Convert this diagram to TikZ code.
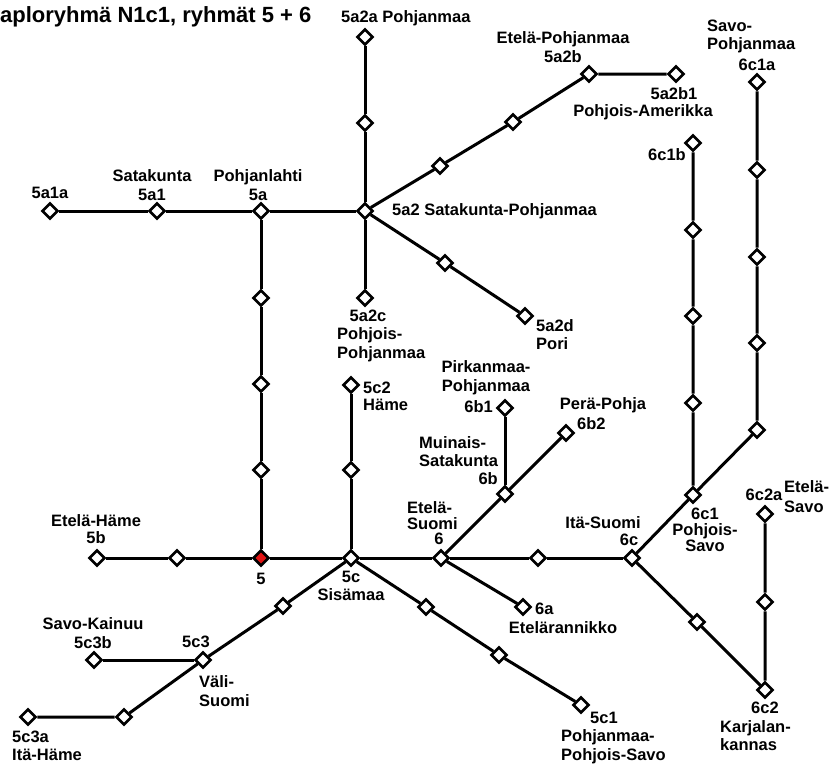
\documentclass[tikz,border=0pt]{standalone}
\usepackage{fontspec}
\setmainfont{Liberation Sans}
\usetikzlibrary{shapes.geometric}
\definecolor{juurired}{RGB}{225,20,20}

\begin{document}
\begin{tikzpicture}[x=1pt,y=-1pt,
  dia/.style={diamond,draw=black,fill=white,line width=2.7pt,minimum size=16pt,inner sep=0pt},
  root/.style={dia,fill=juurired},
  edge/.style={line width=3pt,black},
  lbl/.style={font=\bfseries\fontsize{16.5}{18.5}\selectfont,inner sep=0pt,align=center},
  lbll/.style={lbl,align=left}]
\useasboundingbox (0,0) rectangle (829,766);

\node[anchor=west,inner sep=0pt,font=\bfseries\fontsize{22}{24}\selectfont] (title) at (0,17) {aploryhmä N1c1, ryhmät 5 + 6};

% haara 5a
\node[dia] (d5a1a) at (50,211) {};
\node[dia] (d5a1) at (157,211) {};
\node[dia] (d5a) at (261,211) {};
\node[dia] (d5a2) at (365,211) {};
\node[dia] (m5a2a) at (365,123) {};
\node[dia] (d5a2a) at (365,37) {};
\node[dia] (m5a2bA) at (440,166) {};
\node[dia] (m5a2bB) at (513,122) {};
\node[dia] (d5a2b) at (589,74) {};
\node[dia] (d5a2b1) at (676,74) {};
\node[dia] (d5a2c) at (365,298) {};
\node[dia] (m5a2d) at (445,263) {};
\node[dia] (d5a2d) at (525,316) {};
\node[dia] (m5aA) at (261,298) {};
\node[dia] (m5aB) at (261,384) {};
\node[dia] (m5aC) at (261,470) {};

% 5, 5b, 5c
\node[root] (d5) at (261,558) {};
\node[dia] (d5b) at (97,558) {};
\node[dia] (m5b) at (177,558) {};
\node[dia] (d5c) at (351,558) {};
\node[dia] (m5c2) at (351,470) {};
\node[dia] (d5c2) at (351,385) {};
\node[dia] (m5c3) at (283,606) {};
\node[dia] (d5c3) at (203,660) {};
\node[dia] (d5c3b) at (94,660) {};
\node[dia] (m5c3a) at (124,717) {};
\node[dia] (d5c3a) at (28,717) {};
\node[dia] (m5c1A) at (426,607) {};
\node[dia] (m5c1B) at (499,655) {};
\node[dia] (d5c1) at (581,705) {};

% 6
\node[dia] (d6) at (441,558) {};
\node[dia] (d6a) at (523,607) {};
\node[dia] (d6b) at (505,494) {};
\node[dia] (d6b1) at (505,408) {};
\node[dia] (d6b2) at (566,433) {};
\node[dia] (m6c) at (538,558) {};
\node[dia] (d6c) at (632,558) {};
\node[dia] (d6c1) at (693,495) {};
\node[dia] (m6c1bA) at (693,403) {};
\node[dia] (m6c1bB) at (693,316) {};
\node[dia] (m6c1bC) at (693,230) {};
\node[dia] (d6c1b) at (693,143) {};
\node[dia] (m6c1aA) at (757,430) {};
\node[dia] (m6c1aB) at (757,343) {};
\node[dia] (m6c1aC) at (757,257) {};
\node[dia] (m6c1aD) at (757,170) {};
\node[dia] (d6c1a) at (757,82) {};
\node[dia] (m6c2) at (697,622) {};
\node[dia] (d6c2) at (765,690) {};
\node[dia] (m6c2a) at (765,602) {};
\node[dia] (d6c2a) at (765,514) {};

% viivat
\draw[edge] (d5a1a) -- (d5a1) -- (d5a) -- (d5a2);
\draw[edge] (d5a2) -- (m5a2a) -- (d5a2a);
\draw[edge] (d5a2) -- (m5a2bA) -- (m5a2bB) -- (d5a2b) -- (d5a2b1);
\draw[edge] (d5a2) -- (d5a2c);
\draw[edge] (d5a2) -- (m5a2d) -- (d5a2d);
\draw[edge] (d5a) -- (m5aA) -- (m5aB) -- (m5aC) -- (d5);
\draw[edge] (d5b) -- (m5b) -- (d5) -- (d5c) -- (d6);
\draw[edge] (d5c) -- (m5c2) -- (d5c2);
\draw[edge] (d5c) -- (m5c3) -- (d5c3) -- (m5c3a) -- (d5c3a);
\draw[edge] (d5c3b) -- (d5c3);
\draw[edge] (d5c) -- (m5c1A) -- (m5c1B) -- (d5c1);
\draw[edge] (d6) -- (d6a);
\draw[edge] (d6) -- (d6b) -- (d6b2);
\draw[edge] (d6b) -- (d6b1);
\draw[edge] (d6) -- (m6c) -- (d6c);
\draw[edge] (d6c) -- (d6c1) -- (m6c1bA) -- (m6c1bB) -- (m6c1bC) -- (d6c1b);
\draw[edge] (d6c1) -- (m6c1aA) -- (m6c1aB) -- (m6c1aC) -- (m6c1aD) -- (d6c1a);
\draw[edge] (d6c) -- (m6c2) -- (d6c2) -- (m6c2a) -- (d6c2a);

% nimet
\node[lbl] (l5a1a) at (50,193) {5a1a};
\node[lbl] (l5a1) at (152,185) {Satakunta\\5a1};
\node[lbl] (l5a) at (258,185) {Pohjanlahti\\5a};
\node[lbl,anchor=west] (l5a2a) at (341,18) {5a2a Pohjanmaa};
\node[lbl] (l5a2b) at (563,47) {Etelä-Pohjanmaa\\5a2b};
\node[lbl] (l5a2b1) at (674,94) {5a2b1};
\node[lbl] (lPA) at (643,112) {Pohjois-Amerikka};
\node[lbll,anchor=west] (lSP) at (707,36.5) {Savo-\\Pohjanmaa};
\node[lbl] (l6c1a) at (757,65) {6c1a};
\node[lbl] (l6c1b) at (667,155) {6c1b};
\node[lbl,anchor=west] (l5a2) at (392,211) {5a2 Satakunta-Pohjanmaa};
\node[lbl] (l5a2c) at (368,316) {5a2c};
\node[lbll,anchor=west] (lPP) at (337,344.5) {Pohjois-\\Pohjanmaa};
\node[lbll,anchor=west] (l5a2d) at (536,334.5) {5a2d\\Pori};
\node[lbll,anchor=west,font=\bfseries\fontsize{16.5}{17}\selectfont] (l5c2) at (363,396) {5c2\\Häme};
\node[lbl] (lPiP) at (486,377.5) {Pirkanmaa-\\Pohjanmaa};
\node[lbl,anchor=east] (l6b1) at (493,407) {6b1};
\node[lbl] (lPeP) at (603,405) {Perä-Pohja};
\node[lbl,anchor=west] (l6b2) at (577,424) {6b2};
\node[lbll,anchor=west] (lMS) at (419,451.5) {Muinais-\\Satakunta};
\node[lbl,anchor=east] (l6b) at (498,479) {6b};
\node[lbll,anchor=west,font=\bfseries\fontsize{16.5}{15.5}\selectfont] (lES) at (407,515.5) {Etelä-\\Suomi};
\node[lbl] (l6) at (439,539) {6};
\node[lbl] (lIS) at (603,523) {Itä-Suomi};
\node[lbl] (l6c) at (629,540) {6c};
\node[lbl,font=\bfseries\fontsize{16.5}{16}\selectfont] (l6c1) at (705,530) {6c1\\Pohjois-\\Savo};
\node[lbl] (l6c2a) at (764,495) {6c2a};
\node[lbll,anchor=west,font=\bfseries\fontsize{16.5}{20}\selectfont] (lESa) at (784,497) {Etelä-\\Savo};
\node[lbl,anchor=west] (l6a) at (535,609) {6a};
\node[lbl] (lEr) at (563,628) {Etelärannikko};
\node[lbl,anchor=west] (l5c1) at (590,718) {5c1};
\node[lbll,anchor=west] (lPPS) at (561,746.5) {Pohjanmaa-\\Pohjois-Savo};
\node[lbl] (l6c2) at (765,708) {6c2};
\node[lbll,anchor=west] (lKk) at (720,735.5) {Karjalan-\\kannas};
\node[lbl,font=\bfseries\fontsize{16.5}{17}\selectfont] (l5b) at (96,529.5) {Etelä-Häme\\5b};
\node[lbl] (l5) at (261,579) {5};
\node[lbl] (l5c) at (351,586) {5c\\Sisämaa};
\node[lbl] (l5c3b) at (93,633) {Savo-Kainuu\\5c3b};
\node[lbl] (l5c3) at (196,642) {5c3};
\node[lbll,anchor=west] (lVS) at (199,691) {Väli-\\Suomi};
\node[lbll,anchor=west] (l5c3a) at (12,746) {5c3a\\Itä-Häme};
\end{tikzpicture}
\end{document}
